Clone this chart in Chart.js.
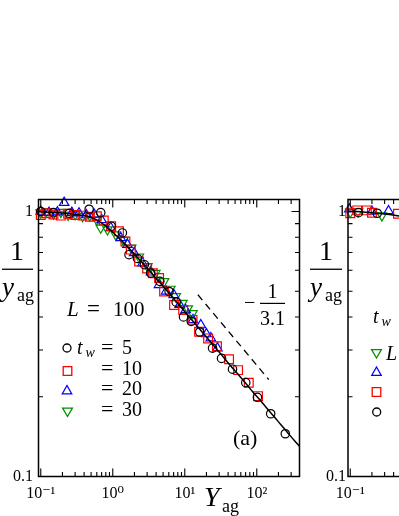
<!DOCTYPE html>
<html><head><meta charset="utf-8">
<script src="https://cdn.jsdelivr.net/npm/chart.js@4.4.0/dist/chart.umd.min.js"></script>
<style>
html,body{margin:0;padding:0;background:#fff;overflow:hidden;width:399px;height:516px;}
#wrap{position:relative;width:399px;height:516px;overflow:hidden;background:#fff;}
#c1{position:absolute;left:0;top:0;}
#c2{position:absolute;left:300px;top:0;}
</style></head><body>
<div id="wrap"><canvas id="c1" width="399" height="516"></canvas><canvas id="c2" width="360" height="516"></canvas></div>
<script>
// ---- axis ranges and tick labels ----
const xMin = 0.093, xMax = 392, yMin = 0.1, yMax = 1.11;
const xTickValues = [0.1, 1, 10, 100];
const xTickLabels = ['10\u207B\u00B9', '10\u2070', '10\u00B9', '10\u00B2'];
const yTickValues = [0.1, 1];
const yTickLabels = ['0.1', '1'];

// ---- panel (a): L = 100, series t_w = 5, 10, 20, 30 ----
const tw5X  = [0.1, 0.15, 0.25, 0.47, 0.68, 0.95, 1.36, 1.68, 2.2, 2.75, 3.37, 4.5, 6.05, 7.6, 9.6, 12.3, 16.1, 24.3, 32.4, 46, 70.3, 102, 156, 249];
const tw5Y  = [1.0, 0.99, 0.985, 1.02, 0.99, 0.88, 0.83, 0.687, 0.665, 0.63, 0.586, 0.545, 0.499, 0.455, 0.40, 0.385, 0.351, 0.305, 0.279, 0.254, 0.226, 0.199, 0.1725, 0.145];
const tw10X = [0.1, 0.12, 0.15, 0.19, 0.24, 0.3, 0.38, 0.48, 0.6, 0.75, 0.95, 1.22, 1.5, 1.78, 2.32, 3.0, 3.6, 4.4, 5.16, 7.1, 9.5, 12.8, 15.8, 21.1, 28, 41.2, 55, 77.4, 104];
const tw10Y = [0.97, 0.985, 0.975, 0.965, 0.98, 0.97, 0.965, 0.955, 0.96, 0.925, 0.88, 0.842, 0.77, 0.718, 0.648, 0.61, 0.585, 0.561, 0.499, 0.444, 0.425, 0.39, 0.352, 0.332, 0.31, 0.277, 0.252, 0.226, 0.201];
const tw20X = [0.1, 0.13, 0.17, 0.211, 0.27, 0.34, 0.43, 0.55, 0.7, 0.938, 1.29, 1.6, 1.98, 2.59, 3.4, 4.39, 5.5, 7.03, 8.5, 10.3, 13, 16.7, 20, 23, 28.4];
const tw20Y = [1.0, 0.99, 0.995, 1.08, 0.99, 0.985, 0.97, 0.975, 0.93, 0.868, 0.795, 0.75, 0.698, 0.639, 0.59, 0.529, 0.5, 0.485, 0.445, 0.425, 0.39, 0.373, 0.345, 0.333, 0.305];
const tw30X = [0.1, 0.12, 0.15, 0.19, 0.24, 0.3, 0.38, 0.48, 0.6, 0.68, 0.844, 1.1, 1.4, 1.8, 2.3, 3.03, 3.9, 5.16, 6.3, 7.5, 9.29, 11, 12.8];
const tw30Y = [0.99, 1.0, 0.98, 0.995, 0.97, 0.975, 0.96, 0.965, 0.93, 0.868, 0.855, 0.818, 0.78, 0.73, 0.675, 0.621, 0.585, 0.545, 0.51, 0.478, 0.451, 0.43, 0.413];
// scaling curve (solid) and slope guide (dashed, -1/3.1)
const fitX = [0.093, 0.15, 0.2, 0.3, 0.4, 0.5, 0.6, 0.7, 0.85, 1, 1.2, 1.5, 1.8, 2.2, 2.7, 3.3, 4, 5, 6, 7.5, 9, 11, 13.5, 16.5, 20, 25, 30, 38, 47, 58, 72, 90, 110, 140, 175, 215, 265, 330, 392];
const fitY = [0.997, 0.992, 0.987, 0.975, 0.965, 0.95, 0.93, 0.905, 0.87, 0.835, 0.797, 0.75, 0.712, 0.671, 0.631, 0.594, 0.559, 0.522, 0.493, 0.459, 0.433, 0.406, 0.381, 0.357, 0.336, 0.313, 0.295, 0.273, 0.255, 0.239, 0.223, 0.207, 0.195, 0.180, 0.168, 0.157, 0.147, 0.137, 0.130];
const slopeX = [15.2, 147];
const slopeY = [0.485, 0.232];

// ---- panel (b) (partly visible) ----
const bGreenX = [0.1, 0.128, 0.275];
const bGreenY = [0.995, 1.0, 0.965];
const bBlueX  = [0.097, 0.2, 0.34];
const bBlueY  = [1.02, 1.0, 1.005];
const bRedX   = [0.1, 0.125, 0.17, 0.2, 0.46];
const bRedY   = [0.985, 1.01, 1.01, 0.99, 0.98];
const bBlackX = [0.13, 0.237];
const bBlackY = [0.99, 0.985];
const bFitX   = [0.093, 0.2, 0.35, 0.6, 1.0];
const bFitY   = [1.005, 0.99, 0.975, 0.95, 0.91];

const BLACK = '#000000', RED = '#ff0000', BLUE = '#0000ff', GREEN = '#009000';
const FONT = '"Liberation Serif","DejaVu Serif",serif';

function pts(xs, ys) { return xs.map((x, i) => ({x: x, y: ys[i]})); }

function markerSet(label, xs, ys, color, style, r, rot) {
  return {label: label, data: pts(xs, ys), showLine: false, borderColor: color,
    backgroundColor: 'rgba(0,0,0,0)', pointStyle: style, pointRadius: r, pointRotation: rot || 0,
    pointBorderWidth: 1.2, pointBorderColor: color, pointBackgroundColor: 'rgba(0,0,0,0)', clip: false};
}
function lineSet(label, xs, ys, dash, width) {
  return {label: label, data: pts(xs, ys), showLine: true, borderColor: BLACK, borderWidth: width,
    borderDash: dash, pointRadius: 0, fill: false, cubicInterpolationMode: 'monotone'};
}

function txt(ctx, s, x, y, size, italic, align) {
  ctx.font = (italic ? 'italic ' : '') + size + 'px ' + FONT;
  ctx.textAlign = align || 'left';
  ctx.textBaseline = 'alphabetic';
  ctx.fillStyle = '#000';
  ctx.fillText(s, x, y);
}
function sym(ctx, style, x, y, color) {
  ctx.save(); ctx.strokeStyle = color; ctx.lineWidth = 1.3; ctx.beginPath();
  if (style === 'circle') ctx.arc(x, y, 4, 0, Math.PI * 2);
  else if (style === 'rect') ctx.rect(x - 4.3, y - 4.3, 8.6, 8.6);
  else if (style === 'up') { ctx.moveTo(x, y - 5); ctx.lineTo(x + 4.7, y + 3.3); ctx.lineTo(x - 4.7, y + 3.3); ctx.closePath(); }
  else { ctx.moveTo(x, y + 5); ctx.lineTo(x + 4.9, y - 3.4); ctx.lineTo(x - 4.9, y - 3.4); ctx.closePath(); }
  ctx.stroke(); ctx.restore();
}

const frameTicks = {
  id: 'frameTicks',
  afterDraw(chart) {
    const ctx = chart.ctx, a = chart.chartArea, xs = chart.scales.x, ys = chart.scales.y;
    ctx.save();
    ctx.strokeStyle = '#000'; ctx.lineWidth = 1.1; ctx.beginPath();
    for (let d = -2; d <= 3; d++) for (let k = 1; k <= 9; k++) {
      const v = k * Math.pow(10, d);
      const L = k === 1 ? 8 : 4.5;
      if (v >= xs.min && v <= xs.max) {
        const p = xs.getPixelForValue(v);
        ctx.moveTo(p, a.bottom); ctx.lineTo(p, a.bottom - L);
        ctx.moveTo(p, a.top); ctx.lineTo(p, a.top + L);
      }
      if (v >= ys.min && v <= ys.max) {
        const q = ys.getPixelForValue(v);
        ctx.moveTo(a.left, q); ctx.lineTo(a.left + L, q);
        ctx.moveTo(a.right, q); ctx.lineTo(a.right - L, q);
      }
    }
    ctx.stroke();
    ctx.lineWidth = 1.5;
    ctx.strokeRect(a.left, a.top, a.right - a.left, a.bottom - a.top);
    ctx.restore();
  }
};

const notesA = {
  id: 'notesA',
  afterDraw(chart) {
    const ctx = chart.ctx;
    ctx.save();
    // y axis title 1 / y_ag
    txt(ctx, '1', 17, 260, 28, false, 'center');
    ctx.fillRect(2, 268.6, 31, 1.3);
    txt(ctx, 'y', 2, 296, 27, true);
    txt(ctx, 'ag', 17, 301, 18, false);
    // x axis title Y_ag
    txt(ctx, 'Y', 204, 506, 28, true);
    txt(ctx, 'ag', 222, 512, 18, false);
    // L = 100
    txt(ctx, 'L', 67, 316, 21, true);
    txt(ctx, '=', 87, 316, 23, false);
    txt(ctx, '100', 113, 316, 21, false);
    // legend
    sym(ctx, 'circle', 67, 348, BLACK);
    sym(ctx, 'rect', 67.5, 371, RED);
    sym(ctx, 'up', 67, 390.5, BLUE);
    sym(ctx, 'down', 67.5, 411.5, GREEN);
    txt(ctx, 't', 77, 354, 20, true);
    txt(ctx, 'w', 85.5, 357, 14, true);
    txt(ctx, '=', 101, 354, 22, false); txt(ctx, '5', 122, 354, 20, false);
    txt(ctx, '=', 101, 375, 22, false); txt(ctx, '10', 122, 375, 20, false);
    txt(ctx, '=', 101, 395, 22, false); txt(ctx, '20', 122, 395, 20, false);
    txt(ctx, '=', 101, 416, 22, false); txt(ctx, '30', 122, 416, 20, false);
    // panel tag
    txt(ctx, '(a)', 233, 445, 22, false);
    // slope label -1/3.1
    txt(ctx, '\u2212', 244, 309, 20, false);
    txt(ctx, '1', 272.5, 298, 20, false, 'center');
    ctx.fillRect(260, 302.8, 25, 1.2);
    txt(ctx, '3.1', 272.5, 325, 20, false, 'center');
    ctx.restore();
  }
};

const notesB = {
  id: 'notesB',
  afterDraw(chart) {
    const ctx = chart.ctx;
    ctx.save();
    txt(ctx, '1', 26, 260, 28, false, 'center');
    ctx.fillRect(10, 268.6, 32, 1.3);
    txt(ctx, 'y', 10, 296, 27, true);
    txt(ctx, 'ag', 25, 301, 18, false);
    txt(ctx, 't', 73, 323, 20, true);
    txt(ctx, 'w', 81.5, 326, 14, true);
    sym(ctx, 'down', 76.5, 353, GREEN);
    txt(ctx, 'L', 86, 360, 20, true);
    sym(ctx, 'up', 76.5, 372, BLUE);
    sym(ctx, 'rect', 76.5, 392, RED);
    sym(ctx, 'circle', 76.7, 412, BLACK);
    ctx.restore();
  }
};

function scalesCfg(yWidth, yPad) {
  return {
    x: {type: 'logarithmic', min: xMin, max: xMax,
      grid: {display: false, drawTicks: false}, border: {display: false},
      afterFit: s => { s.height = 39.5; },
      afterBuildTicks: s => { s.ticks = xTickValues.map(v => ({value: v})); },
      ticks: {autoSkip: false, maxRotation: 0, minRotation: 0, padding: 8, color: '#000',
        font: {family: FONT, size: 16},
        callback: v => { const i = xTickValues.indexOf(v); return i >= 0 ? xTickLabels[i] : ''; }}},
    y: {type: 'logarithmic', min: yMin, max: yMax,
      grid: {display: false, drawTicks: false}, border: {display: false},
      afterFit: s => { s.width = yWidth; },
      afterBuildTicks: s => { s.ticks = yTickValues.map(v => ({value: v})); },
      ticks: {autoSkip: false, padding: yPad, color: '#000',
        font: {family: FONT, size: 16},
        callback: v => { const i = yTickValues.indexOf(v); return i >= 0 ? yTickLabels[i] : ''; }}}
  };
}

const common = {responsive: false, animation: false, devicePixelRatio: 1, events: [],
  plugins: {legend: {display: false}, tooltip: {enabled: false}, title: {display: false}}};

new Chart(document.getElementById('c1'), {
  type: 'scatter',
  data: {datasets: [
    lineSet('fit', fitX, fitY, [], 1.5),
    lineSet('slope -1/3.1', slopeX, slopeY, [7, 5], 1.3),
    markerSet('t_w = 5', tw5X, tw5Y, BLACK, 'circle', 4.2),
    markerSet('t_w = 10', tw10X, tw10Y, RED, 'rect', 6.2),
    markerSet('t_w = 20', tw20X, tw20Y, BLUE, 'triangle', 5.5),
    markerSet('t_w = 30', tw30X, tw30Y, GREEN, 'triangle', 5.5, 180)
  ]},
  options: Object.assign({}, common, {
    layout: {padding: {left: 0, top: 199.5, right: 99.5, bottom: 0}},
    scales: scalesCfg(38.5, 5.5)
  }),
  plugins: [frameTicks, notesA]
});

new Chart(document.getElementById('c2'), {
  type: 'scatter',
  data: {datasets: [
    lineSet('fit b', bFitX, bFitY, [], 1.5),
    markerSet('black b', bBlackX, bBlackY, BLACK, 'circle', 4.2),
    markerSet('red b', bRedX, bRedY, RED, 'rect', 6.2),
    markerSet('blue b', bBlueX, bBlueY, BLUE, 'triangle', 5.5),
    markerSet('green b', bGreenX, bGreenY, GREEN, 'triangle', 5.5, 180)
  ]},
  options: Object.assign({}, common, {
    layout: {padding: {left: 0, top: 199.5, right: 51, bottom: 0}},
    scales: scalesCfg(48, 2)
  }),
  plugins: [frameTicks, notesB]
});
</script>
</body></html>
